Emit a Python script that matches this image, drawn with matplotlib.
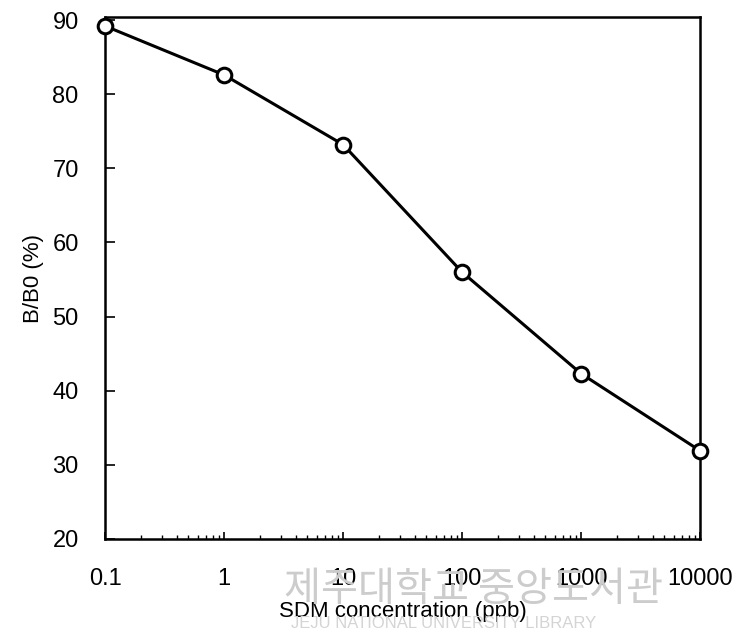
import matplotlib.pyplot as plt
from matplotlib.ticker import LogLocator, NullFormatter, FixedLocator, FixedFormatter

# data
conc = [0.1, 1, 10, 100, 1000, 10000]
b_b0 = [89.2, 82.6, 73.2, 56.0, 42.3, 31.9]
x_ticks = [0.1, 1, 10, 100, 1000, 10000]
x_labels = ['0.1', '1', '10', '100', '1000', '10000']
y_ticks = [20, 30, 40, 50, 60, 70, 80, 90]

plt.rcParams['font.family'] = ['Liberation Sans', 'DejaVu Sans']

fig = plt.figure(figsize=(7.4, 6.34), dpi=100)
ax = fig.add_axes([0.142, 0.150, 0.804, 0.823])

ax.plot(conc, b_b0, color='black', linewidth=2.2, marker='o', markersize=10.5,
        markerfacecolor='white', markeredgecolor='black', markeredgewidth=2.2,
        clip_on=False, zorder=3)

ax.set_xscale('log')
ax.set_xlim(0.1, 10000)
ax.set_ylim(20, 90.4)

ax.xaxis.set_major_locator(FixedLocator(x_ticks))
ax.xaxis.set_major_formatter(FixedFormatter(x_labels))
ax.xaxis.set_minor_locator(LogLocator(base=10, subs=range(2, 10)))
ax.xaxis.set_minor_formatter(NullFormatter())
ax.set_yticks(y_ticks)

ax.tick_params(axis='x', which='major', direction='in', length=5, width=1.2,
               pad=21, labelsize=17)
ax.tick_params(axis='x', which='minor', direction='in', length=3, width=1)
ax.tick_params(axis='y', direction='in', length=7, width=1.2, pad=19, labelsize=17)

for s in ax.spines.values():
    s.set_linewidth(1.8)

ax.set_ylabel('B/B0 (%)', fontsize=16, labelpad=6)
ax.set_xlabel('SDM concentration (ppb)', fontsize=16, labelpad=8)

# faint library watermark
fig.text(0.64, 0.07, '제주대학교 중앙도서관', fontsize=29, color='#cccccc',
         ha='center', va='center', family=['Noto Sans CJK KR'], zorder=0)
fig.text(0.6, 0.004, 'JEJU NATIONAL UNIVERSITY LIBRARY', fontsize=12,
         color='#d4d4d4', ha='center', va='bottom', zorder=0)

fig.savefig('out.png', dpi=100)
